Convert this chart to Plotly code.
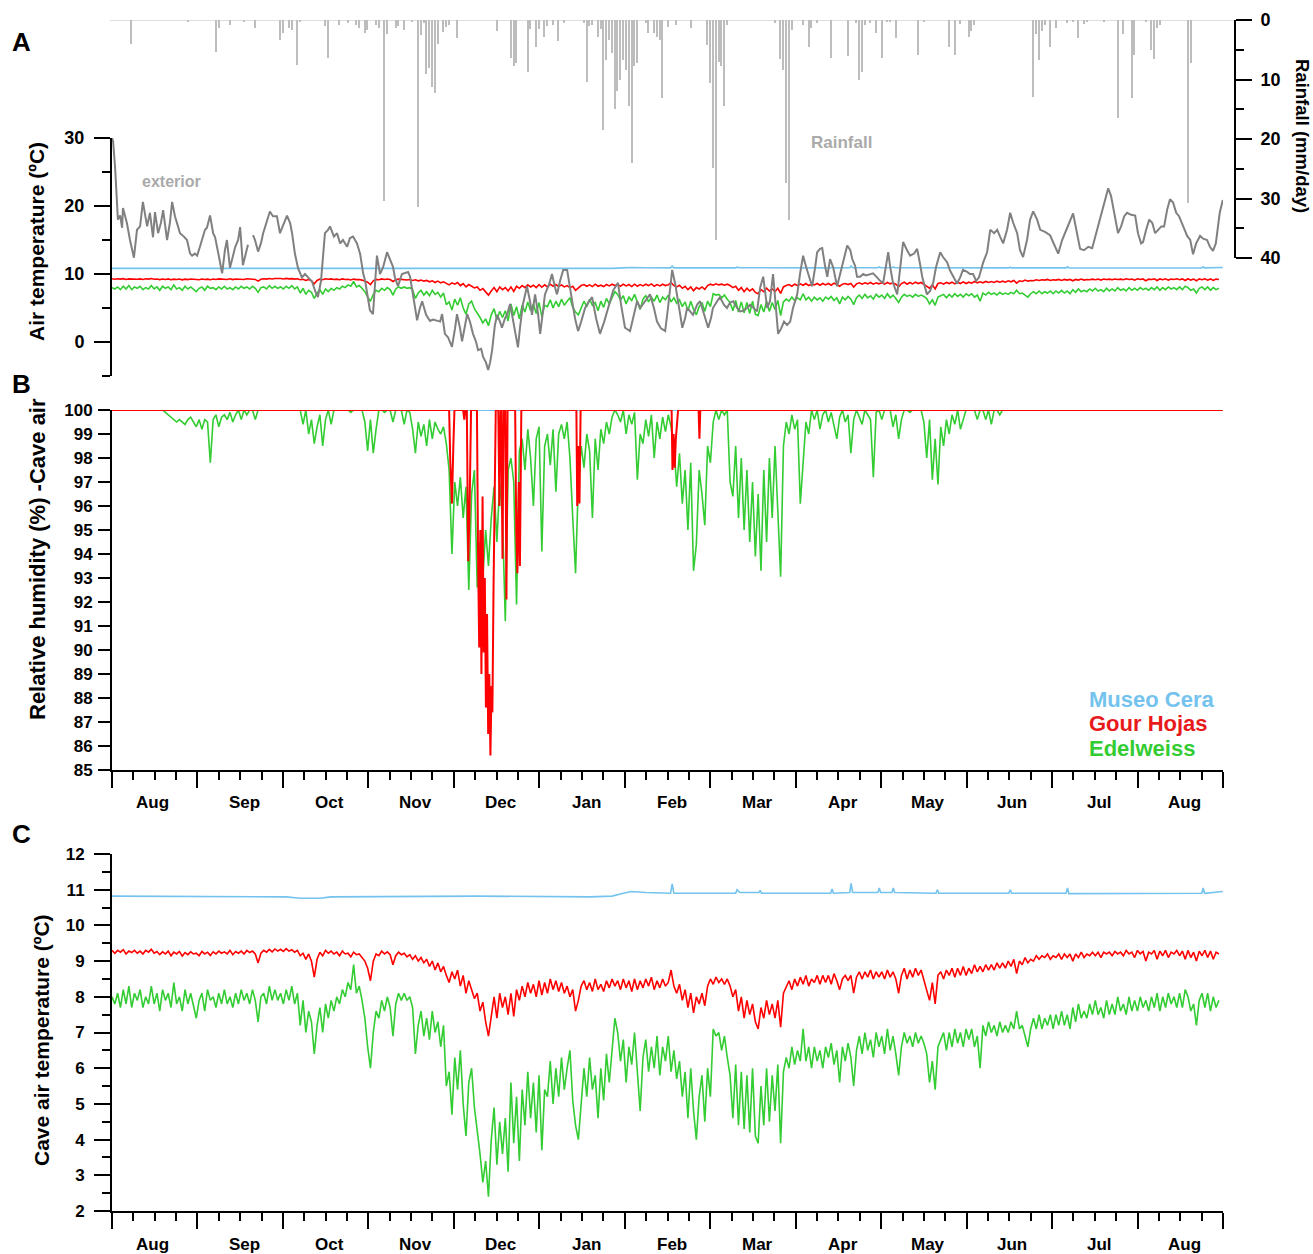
import numpy as np
import plotly.graph_objects as go

W, H = 1313, 1254
FONT = "Liberation Sans, Arial, sans-serif"

# ---------------- data ----------------
MONTH_DAYS = 30.42
month_labels = ["Aug", "Sep", "Oct", "Nov", "Dec", "Jan", "Feb", "Mar", "Apr", "May", "Jun", "Jul", "Aug"]
month_label_pos = [0.47, 1.55, 2.55, 3.55, 4.55, 5.55, 6.55, 7.55, 8.55, 9.55, 10.53, 11.55, 12.55]
X_END = MONTH_DAYS * len(month_labels)

# Edelweiss cave air temperature (daily, day 0 = 1 Aug)
edel_temp = [
    8.0, 7.8, 8.1, 7.7, 8.2, 7.8, 8.3, 7.7, 8.1, 7.9,
    8.2, 7.7, 8.0, 7.8, 8.3, 7.8, 8.1, 7.6, 8.2, 7.9,
    8.1, 7.7, 8.4, 7.8, 8.0, 7.6, 8.2, 7.8, 8.1, 7.7,
    7.4, 7.9, 8.1, 7.6, 8.2, 7.9, 8.0, 7.7, 8.1, 7.8,
    8.2, 7.8, 8.0, 7.7, 8.1, 7.8, 8.2, 7.9, 8.1, 7.8,
    8.2, 7.9, 7.3, 8.0, 8.1, 7.8, 8.3, 7.9, 8.2, 7.9,
    8.1, 7.8, 8.2, 7.9, 8.3, 7.8, 8.1, 7.2, 7.9, 7.0,
    7.6, 7.3, 6.4, 7.2, 7.7, 7.0, 7.8, 7.4, 7.9, 7.6,
    8.0, 7.8, 8.2, 8.0, 8.4, 8.2, 8.9, 8.1, 8.3, 7.9,
    7.4, 6.6, 6.0, 7.0, 7.6, 7.4, 7.9, 7.6, 8.0, 7.7,
    6.9, 7.8, 8.1, 7.9, 8.1, 7.9, 8.0, 7.7, 6.4, 7.2,
    7.6, 6.9, 7.4, 6.8, 7.6, 7.0, 7.3, 6.6, 7.2, 5.5,
    5.9, 4.7, 6.3, 5.4, 6.5, 5.0, 4.1, 5.6, 6.0, 4.9,
    4.3, 3.6, 2.8, 3.4, 2.4, 4.0, 4.9, 3.3, 4.5, 3.6,
    4.6, 3.1, 5.6, 3.9, 5.2, 3.4, 5.4, 4.4, 5.9, 4.6,
    5.6, 4.2, 5.8, 3.7, 5.4, 5.2, 6.2, 5.0, 6.0, 5.2,
    6.3, 5.4, 6.0, 6.5, 5.1, 4.4, 4.0, 5.0, 6.0, 5.2,
    6.3, 5.4, 5.8, 4.6, 6.0, 5.1, 6.4, 5.6, 6.6, 7.4,
    7.0, 6.2, 6.8, 5.6, 6.6, 6.1, 7.0, 6.0, 4.8, 6.3,
    6.8, 5.9, 6.6, 6.0, 6.9, 5.8, 6.6, 6.2, 6.9, 5.9,
    6.5, 5.7, 6.2, 5.2, 5.9, 4.6, 6.0, 4.8, 4.0, 5.2,
    5.8, 4.5, 6.0, 5.2, 7.1, 6.9, 7.0, 6.5, 6.9, 6.3,
    5.8, 4.6, 6.1, 4.4, 5.9, 4.3, 5.8, 4.2, 6.0, 4.1,
    3.9, 5.5, 4.4, 6.0, 4.5, 5.8, 4.8, 6.1, 3.9, 5.9,
    6.3, 6.0, 6.6, 6.1, 6.5, 6.2, 7.1, 6.2, 6.6, 6.0,
    6.6, 6.2, 6.5, 6.0, 6.6, 6.3, 6.7, 6.1, 6.5, 5.6,
    6.6, 6.2, 6.7, 6.3, 5.5, 6.5, 6.9, 6.4, 7.0, 6.5,
    6.8, 6.3, 7.0, 6.6, 6.9, 6.4, 7.1, 6.5, 6.9, 6.4,
    5.8, 6.6, 7.0, 6.7, 6.9, 6.6, 7.0, 6.7, 6.9, 6.7,
    6.4, 5.6, 6.2, 5.4, 6.6, 6.8, 7.0, 6.5, 7.0, 6.6,
    7.1, 6.7, 7.0, 6.6, 7.1, 6.8, 7.1, 6.6, 6.9, 6.0,
    7.2, 6.9, 7.3, 7.0, 7.2, 6.9, 7.3, 7.0, 7.2, 7.0,
    7.3, 7.1, 7.6, 7.1, 7.2, 6.9, 6.6, 7.1, 7.4, 7.1,
    7.5, 7.1, 7.4, 7.2, 7.5, 7.1, 7.5, 7.2, 7.6, 7.2,
    7.5, 7.1, 7.7, 7.3, 7.8, 7.4, 7.6, 7.4, 7.8, 7.5,
    7.9, 7.5, 7.7, 7.4, 7.9, 7.5, 7.8, 7.5, 8.0, 7.6,
    7.8, 7.5, 8.0, 7.6, 7.9, 7.6, 8.0, 7.7, 7.9, 7.6,
    8.0, 7.7, 8.1, 7.6, 8.0, 7.7, 8.1, 7.8, 8.0, 7.7,
    8.1, 7.7, 8.2, 8.0, 7.6, 7.8, 7.2, 7.9, 8.1, 7.7,
    8.1, 7.6, 8.0, 7.7, 7.9,
]

# Gour Hojas cave air temperature (daily)
gour_temp = [
    9.30, 9.22, 9.30, 9.25, 9.32, 9.20, 9.28, 9.24, 9.30, 9.22,
    9.28, 9.20, 9.30, 9.25, 9.33, 9.22, 9.27, 9.18, 9.26, 9.20,
    9.28, 9.15, 9.25, 9.20, 9.27, 9.14, 9.24, 9.18, 9.26, 9.20,
    9.22, 9.15, 9.27, 9.20, 9.25, 9.16, 9.26, 9.20, 9.28, 9.22,
    9.26, 9.20, 9.30, 9.18, 9.27, 9.22, 9.28, 9.20, 9.30, 9.24,
    9.28, 9.20, 8.95, 9.22, 9.30, 9.25, 9.33, 9.26, 9.34, 9.28,
    9.33, 9.27, 9.35, 9.28, 9.32, 9.25, 9.30, 9.15, 9.22, 9.05,
    9.20, 9.00, 8.55, 9.05, 9.25, 9.15, 9.30, 9.22, 9.28, 9.20,
    9.25, 9.15, 9.28, 9.20, 9.22, 9.12, 9.25, 9.18, 9.20, 9.10,
    9.00, 8.80, 8.45, 9.00, 9.20, 9.15, 9.28, 9.20, 9.26, 9.18,
    8.90, 9.15, 9.25, 9.18, 9.22, 9.12, 9.18, 9.05, 9.15, 9.00,
    9.10, 8.95, 9.05, 8.85, 9.00, 8.75, 8.95, 8.70, 8.85, 8.60,
    8.40, 8.70, 8.50, 8.75, 8.30, 8.60, 8.10, 8.45, 8.20, 7.95,
    8.10, 7.60, 7.85, 7.30, 6.90, 7.50, 8.00, 7.40, 8.10, 7.70,
    8.00, 7.50, 8.10, 7.45, 8.20, 7.90, 8.30, 8.00, 8.40, 8.10,
    8.35, 8.00, 8.45, 8.05, 8.40, 8.10, 8.50, 8.20, 8.45, 8.15,
    8.40, 8.10, 8.30, 8.00, 8.20, 7.60, 7.90, 8.30, 8.45, 8.20,
    8.40, 8.15, 8.50, 8.20, 8.35, 8.15, 8.45, 8.25, 8.50, 8.30,
    8.45, 8.20, 8.50, 8.25, 8.45, 8.15, 8.50, 8.20, 8.45, 8.25,
    8.50, 8.30, 8.55, 8.20, 8.45, 8.25, 8.50, 8.30, 8.40, 8.75,
    8.30, 8.10, 8.35, 7.90, 8.20, 7.70, 8.10, 7.55, 8.00, 7.80,
    8.10, 7.75, 8.30, 8.50, 8.35, 8.55, 8.40, 8.50, 8.35, 8.50,
    8.30, 8.00, 8.20, 7.60, 8.00, 7.40, 7.90, 7.50, 7.80, 7.30,
    7.10, 7.70, 7.40, 7.90, 7.50, 7.80, 7.40, 7.90, 7.15, 8.10,
    8.30, 8.45, 8.20, 8.50, 8.30, 8.55, 8.35, 8.60, 8.30, 8.50,
    8.40, 8.60, 8.35, 8.60, 8.40, 8.60, 8.35, 8.65, 8.45, 8.20,
    8.50, 8.60, 8.45, 8.60, 8.10, 8.55, 8.70, 8.50, 8.70, 8.55,
    8.75, 8.50, 8.70, 8.55, 8.70, 8.50, 8.75, 8.55, 8.70, 8.50,
    8.10, 8.60, 8.80, 8.50, 8.75, 8.55, 8.80, 8.60, 8.75, 8.45,
    8.20, 7.90, 8.40, 7.80, 8.60, 8.70, 8.50, 8.75, 8.60, 8.80,
    8.55, 8.80, 8.60, 8.85, 8.60, 8.80, 8.65, 8.90, 8.70, 8.85,
    8.70, 8.90, 8.75, 8.90, 8.75, 8.95, 8.80, 8.95, 8.80, 9.00,
    8.85, 9.05, 8.65, 9.00, 8.90, 9.10, 8.95, 9.05, 9.00, 9.15,
    9.05, 9.15, 9.10, 9.20, 9.05, 9.15, 9.10, 9.20, 9.05, 9.20,
    9.10, 9.20, 9.00, 9.20, 9.10, 9.25, 9.10, 9.20, 9.15, 9.25,
    9.15, 9.25, 9.10, 9.25, 9.20, 9.25, 9.15, 9.27, 9.20, 9.25,
    9.15, 9.30, 9.20, 9.25, 9.10, 9.30, 9.20, 9.27, 9.00, 9.25,
    9.20, 9.30, 9.05, 9.28, 9.15, 9.30, 9.10, 9.25, 9.20, 9.30,
    9.15, 9.28, 9.05, 9.30, 9.10, 9.25, 9.00, 9.28, 9.15, 9.30,
    9.10, 9.28, 9.05, 9.25, 9.20,
]

# Museo Cera cave air temperature (day, degC)
museo_temp = [
    (0, 10.82), (30, 10.81), (62, 10.80), (67, 10.76), (74, 10.76), (78, 10.80),
    (130, 10.82), (170, 10.80), (178, 10.82), (182, 10.90), (185, 10.95),
    (190, 10.92), (198.8, 10.90), (199.4, 11.16), (200, 10.90), (222, 10.90),
    (222.5, 11.00), (223.5, 10.92), (230.3, 10.92), (230.7, 10.98), (231.2, 10.90),
    (255.8, 10.90), (256.3, 11.02), (256.8, 10.90), (262.6, 10.92), (263.1, 11.18),
    (263.6, 10.92), (272.6, 10.92), (273.1, 11.05), (273.6, 10.92), (277.6, 10.92),
    (278.1, 11.05), (278.6, 10.92), (293.3, 10.90), (293.8, 11.00), (294.3, 10.90),
    (319.2, 10.90), (319.7, 11.00), (320.2, 10.90), (339.6, 10.90), (340.1, 11.05),
    (340.6, 10.89), (387.9, 10.90), (388.4, 11.05), (388.9, 10.90), (395.4, 10.95),
]

# Exterior air temperature (day, degC)
exterior = [
    (0, 30.0), (0.4, 29.5), (1.1, 25.7), (1.8, 20.9), (2.1, 18.0), (2.9, 18.6), (3.6, 16.8),
    (3.9, 19.7), (5.3, 17.5), (6.4, 15.0), (7.8, 12.4), (8.9, 16.5), (10.0, 17.0), (11.0, 20.6),
    (12.5, 17.0), (13.5, 19.0), (14.6, 15.4), (15.3, 19.1), (16.4, 16.0), (17.4, 17.5), (18.2, 19.4),
    (19.6, 15.0), (20.6, 17.5), (21.4, 20.6), (22.4, 18.5), (23.5, 17.0), (24.2, 16.0), (25.6, 15.5),
    (26.7, 15.0), (27.8, 13.0), (28.5, 12.7), (29.5, 13.0), (30.3, 12.7), (31.3, 14.0), (32.0, 15.0),
    (33.1, 16.5), (33.8, 16.8), (34.9, 18.6), (36.0, 16.0), (36.7, 15.4), (38.1, 12.5), (39.2, 10.1),
    (40.2, 13.5), (40.9, 15.0), (42.0, 10.9), (43.1, 12.5), (43.8, 13.9), (44.9, 15.0), (45.6, 16.9),
    (46.6, 11.3), (47.7, 13.0), (48.4, 14.3), (49.3, None), (50.2, 15.7), (50.9, 15.0), (52.0, 13.3),
    (53.0, 14.5), (53.8, 16.0), (55.2, 18.0), (56.2, 19.2), (57.3, 18.5), (58.7, 18.5), (59.8, 16.0),
    (61.2, 17.5), (62.3, 18.6), (63.4, 17.5), (64.1, 16.0), (65.1, 13.0), (66.2, 10.9), (67.6, 9.5),
    (68.7, 10.0), (69.8, 9.5), (71.2, 8.9), (72.3, 7.5), (73.3, 6.6), (74.4, 9.0), (75.8, 16.0),
    (76.9, 16.5), (77.6, 17.0), (79.0, 15.5), (80.1, 16.0), (81.2, 14.5), (82.2, 15.0), (83.7, 14.0),
    (84.7, 15.3), (85.8, 15.5), (87.2, 14.5), (88.3, 13.0), (89.4, 10.1), (90.1, 9.0), (91.1, 6.0),
    (91.8, 4.7), (92.9, 4.1), (93.6, 8.0), (94.3, 12.7), (95.4, 10.0), (96.5, 11.0), (97.9, 13.2),
    (99.0, 12.0), (100.0, 11.1), (100.7, 9.5), (101.8, 8.2), (103.2, 10.0), (104.3, 10.1), (105.4, 10.3),
    (106.1, 9.6), (107.2, 6.6), (108.6, 3.2), (109.6, 5.0), (110.4, 6.0), (111.8, 4.0), (113.2, 3.1),
    (114.3, 3.3), (115.7, 3.1), (116.8, 3.0), (117.5, 4.1), (118.5, 1.2), (119.6, 0.7), (121.0, -0.7),
    (122.1, 2.0), (122.8, 4.1), (123.9, 2.0), (124.6, 0.1), (125.7, 2.5), (126.4, 4.1), (127.4, 3.0),
    (128.5, 1.2), (129.6, 0.0), (130.3, -1.2), (131.4, -1.0), (132.1, -2.2), (133.1, -3.0), (133.9, -4.1),
    (134.6, -3.0), (135.3, -1.2), (136.3, 2.5), (137.1, 4.0), (138.1, 3.0), (138.8, 2.1), (139.9, 3.5),
    (140.6, 4.0), (141.7, 5.6), (142.8, 3.1), (143.8, 1.0), (144.5, -0.8), (145.2, 2.0), (146.3, 5.6),
    (147.7, 8.2), (148.8, 6.0), (149.5, 4.0), (150.6, 7.0), (151.7, 4.0), (152.4, 1.2), (153.4, 4.5),
    (154.1, 7.0), (155.6, 8.5), (156.6, 10.0), (157.7, 8.0), (158.4, 7.0), (159.5, 9.0), (160.6, 10.6),
    (162.0, 10.6), (162.7, 8.5), (163.8, 6.0), (164.8, 3.5), (165.9, 1.6), (167.0, 3.0), (168.4, 5.0),
    (169.8, 6.0), (170.9, 6.6), (172.3, 3.5), (173.7, 1.2), (175.2, 3.0), (176.2, 4.6), (177.3, 6.0),
    (178.4, 7.6), (180.1, 8.7), (181.2, 5.5), (182.6, 2.1), (184.4, 1.6), (185.8, 4.0), (186.9, 6.0),
    (188.0, 5.0), (189.0, 5.6), (190.5, 6.5), (191.5, 7.0), (192.9, 5.0), (194.0, 3.0), (195.4, 2.0),
    (196.9, 1.6), (197.9, 5.0), (199.4, 10.6), (200.5, 8.5), (201.2, 6.6), (202.3, 4.0), (203.0, 2.1),
    (204.0, 3.5), (204.7, 5.0), (205.8, 4.5), (206.8, 4.0), (208.3, 5.5), (209.3, 6.0), (210.8, 4.0),
    (212.2, 2.1), (213.2, 3.5), (213.9, 5.0), (215.4, 6.0), (216.4, 6.6), (217.8, 5.5), (218.9, 5.0),
    (220.0, 5.8), (221.1, 6.0), (222.5, 5.0), (223.6, 4.5), (224.6, 4.6), (226.1, 5.0), (227.1, 5.5),
    (228.2, 5.0), (229.6, 4.5), (230.7, 8.0), (231.8, 9.6), (233.2, 5.0), (234.2, 6.0), (235.3, 10.0),
    (236.4, 5.0), (237.1, 1.2), (238.2, 2.0), (239.2, 3.0), (240.3, 2.5), (241.4, 3.0), (242.4, 5.0),
    (243.9, 7.0), (244.9, 10.0), (246.0, 12.7), (247.1, 11.0), (248.1, 9.6), (249.2, 8.2), (250.3, 11.0),
    (251.0, 13.2), (252.0, 13.7), (252.8, 13.8), (253.8, 11.2), (254.6, 9.6), (255.6, 12.2), (256.7, 11.0),
    (258.1, 8.2), (259.2, 10.0), (259.9, 11.2), (261.7, 14.2), (262.8, 13.5), (263.5, 12.2), (264.5, 11.2),
    (265.2, 9.6), (266.3, 9.6), (267.4, 10.0), (268.4, 9.8), (269.8, 10.0), (270.9, 10.1), (272.3, 9.5),
    (273.4, 9.0), (274.5, 8.7), (275.5, 11.0), (276.3, 13.2), (277.0, 11.0), (278.0, 8.7), (279.5, 7.0),
    (280.5, 11.0), (281.6, 14.7), (283.0, 13.5), (284.1, 12.7), (285.5, 13.0), (286.6, 13.7), (287.6, 11.5),
    (288.4, 9.6), (289.4, 8.0), (290.1, 7.0), (291.2, 7.5), (292.3, 8.7), (293.3, 11.0), (294.8, 13.2),
    (295.8, 12.5), (297.3, 11.7), (298.3, 10.5), (299.4, 9.6), (300.8, 8.6), (301.9, 9.5), (302.9, 10.6),
    (304.4, 10.3), (305.4, 10.0), (306.5, 10.0), (307.6, 9.0), (308.6, 9.5), (310.1, 11.7), (311.5, 13.2),
    (312.6, 16.5), (314.0, 16.0), (315.1, 16.5), (316.1, 15.5), (317.2, 14.5), (318.6, 16.5), (319.7, 19.0),
    (320.8, 17.5), (322.2, 16.0), (323.2, 13.5), (324.3, 12.5), (325.7, 15.0), (326.8, 18.0), (327.9, 19.2),
    (329.3, 18.0), (330.4, 16.5), (332.1, 16.2), (333.9, 15.7), (335.3, 14.5), (336.8, 13.0), (338.2, 15.0),
    (339.3, 16.0), (340.7, 17.5), (342.1, 18.9), (343.2, 16.5), (344.6, 13.7), (346.0, 13.5), (347.5, 14.0),
    (348.9, 13.8), (350.3, 16.0), (351.7, 18.0), (353.1, 20.0), (354.6, 22.6), (355.6, 21.5), (356.7, 19.0),
    (358.1, 16.0), (359.2, 17.0), (360.3, 18.5), (361.3, 19.0), (362.8, 18.7), (364.2, 18.6), (365.2, 16.0),
    (366.3, 14.5), (367.0, 14.7), (368.1, 16.5), (369.2, 18.0), (370.3, 17.5), (371.3, 16.0), (372.4, 16.5),
    (373.5, 17.0), (374.5, 17.0), (375.6, 19.5), (376.6, 21.0), (377.7, 20.5), (378.8, 19.0), (379.8, 18.5),
    (381.3, 17.0), (382.7, 15.6), (383.8, 15.0), (384.8, 12.9), (385.9, 14.5), (387.3, 15.6), (388.4, 15.2),
    (389.8, 15.0), (390.8, 14.0), (391.9, 13.4), (392.9, 14.5), (393.6, 16.5), (394.3, 19.0), (395.4, 20.9),
]

# Daily rainfall (day, mm/day)
rainfall = [
    (7, 4.1), (27, 0.3), (37, 5.3), (38, 1.4), (42, 0.8), (47, 0.3), (51, 1.4), (60, 3.4), (61, 2.2),
    (63, 1.4), (64, 1.7), (66, 7.6), (67, 0.3), (76, 1.0), (77, 6.4), (81, 0.8), (84, 0.5), (87, 0.8),
    (88, 1.4), (90, 2.2), (91, 1.7), (94, 0.8), (95, 1.4), (97, 30.5), (98, 2.4), (101, 1.4), (102, 1.0),
    (104, 1.7), (107, 0.3), (109, 31.4), (110, 2.5), (111, 0.5), (112, 9.0), (113, 8.0), (114, 11.3),
    (115, 12.3), (116, 4.0), (118, 2.1), (119, 1.1), (120, 0.8), (123, 3.1), (137, 1.9), (142, 6.4),
    (143, 7.8), (144, 7.3), (148, 8.7), (149, 1.5), (151, 4.5), (152, 1.5), (154, 2.8), (155, 1.0),
    (157, 0.8), (159, 3.6), (161, 0.5), (168, 0.5), (169, 10.4), (170, 1.0), (171, 0.8), (173, 2.8),
    (174, 1.5), (175, 18.5), (176, 6.7), (177, 3.4), (178, 5.6), (179, 14.9), (180, 12.0), (181, 10.1),
    (182, 6.7), (183, 8.4), (184, 14.4), (185, 24.1), (186, 7.8), (187, 7.3), (190, 0.5), (191, 2.2),
    (193, 2.2), (194, 2.8), (195, 3.4), (196, 13.1), (198, 1.1), (201, 0.8), (206, 1.4), (212, 4.2),
    (213, 10.6), (214, 24.9), (215, 37.0), (216, 7.0), (217, 7.8), (218, 14.4), (219, 0.8), (236, 0.5),
    (238, 6.5), (239, 8.4), (240, 27.4), (241, 33.6), (242, 1.7), (246, 0.8), (248, 4.5), (249, 1.4),
    (251, 0.5), (256, 6.4), (262, 6.1), (265, 0.5), (266, 10.1), (267, 8.7), (268, 0.8), (270, 0.5),
    (272, 2.2), (274, 6.4), (276, 0.3), (277, 0.3), (279, 3.0), (287, 5.9), (289, 0.4), (298, 4.5),
    (300, 5.9), (302, 0.7), (305, 2.8), (306, 1.9), (307, 0.9), (328, 12.9), (329, 2.4), (330, 6.7),
    (331, 1.9), (332, 0.8), (334, 4.5), (336, 1.4), (340, 0.5), (342, 0.3), (344, 3.1), (346, 0.6),
    (347, 0.3), (353, 0.3), (358, 16.5), (360, 2.4), (363, 13.1), (364, 5.9), (368, 0.3), (370, 5.0),
    (371, 6.6), (372, 1.4), (373, 0.8), (383, 30.8), (384, 7.3),
]

# Relative humidity, Edelweiss (daily, %)
rh_edel = [
    100, 100, 100, 100, 100, 100, 100, 100, 100, 100,
    100, 100, 100, 100, 100, 100, 100, 100, 100, 99.9,
    99.8, 99.7, 99.6, 99.5, 99.6, 99.5, 99.4, 99.6, 99.7, 99.5,
    99.3, 99.6, 99.2, 99.6, 99.5, 97.8, 99.6, 99.8, 99.3, 99.7,
    99.8, 99.6, 99.9, 99.5, 99.8, 100, 99.6, 100, 99.8, 100,
    100, 99.6, 100, 100, 100, 100, 100, 100, 100, 100,
    100, 100, 100, 100, 100, 100, 100, 100, 99.4, 100,
    99.0, 99.6, 98.6, 99.3, 99.8, 98.5, 99.6, 100, 99.4, 100,
    100, 100, 100, 100, 100, 99.9, 100, 100, 100, 100,
    99.5, 98.3, 99.6, 98.2, 99.2, 100, 100, 99.9, 100, 100,
    99.5, 100, 100, 100, 99.4, 100, 99.9, 99.2, 98.2, 99.5,
    98.9, 99.4, 98.5, 99.6, 98.8, 99.5, 99.2, 99.0, 99.3, 98.6,
    97.5, 94.0, 97.0, 96.0, 97.2, 95.5, 96.8, 92.5, 96.5, 97.5,
    92.6, 94.5, 93.0, 95.0, 93.5, 95.5, 96.8, 94.5, 97.0, 95.5,
    91.2, 97.5, 98.0, 97.0, 91.9, 98.3, 98.8, 97.5, 99.2, 98.0,
    96.0, 98.8, 99.3, 94.1, 98.5, 99.0, 97.7, 99.2, 96.6, 99.0,
    99.4, 98.8, 99.5, 98.0, 95.5, 93.2, 97.0, 98.5, 97.6, 99.0,
    98.3, 95.5, 98.8, 97.5, 99.2, 98.6, 99.5, 99.0, 99.7, 100,
    99.8, 99.5, 100, 99.0, 99.8, 99.4, 99.9, 97.1, 99.0, 98.6,
    99.6, 98.9, 99.8, 98.0, 99.5, 98.8, 99.7, 99.1, 99.8, 99.3,
    98.5, 96.8, 98.2, 96.1, 97.5, 95.0, 97.8, 93.3, 94.4, 97.5,
    96.5, 95.2, 98.5, 97.8, 99.5, 100, 99.6, 100, 99.8, 100,
    97.0, 96.4, 98.5, 95.5, 98.0, 95.0, 97.5, 94.5, 97.0, 93.9,
    96.5, 93.3, 97.5, 94.5, 98.0, 95.5, 98.5, 96.0, 93.05, 98.5,
    99.5, 99.0, 99.8, 99.2, 99.6, 96.1, 97.8, 99.5, 99.0, 100,
    99.6, 100, 99.2, 99.8, 100, 99.5, 99.9, 99.4, 98.8, 99.7,
    100, 99.5, 99.8, 98.2, 99.6, 100, 99.7, 99.4, 100, 99.8,
    99.6, 97.2, 99.9, 100, 99.6, 100, 100, 100, 99.3, 99.8,
    98.8, 99.6, 100, 100, 99.9, 100, 100, 100, 100, 99.5,
    98.0, 99.6, 97.1, 98.8, 96.9, 99.3, 98.5, 99.6, 99.0, 99.8,
    99.4, 100, 99.2, 99.6, 100, 100, 100, 100, 99.6, 100,
    100, 99.6, 100, 99.4, 100, 100, 99.8, 100, 100, 100,
    100, 100, 100, 100, 100, 100, 100, 100, 100, 100,
    100, 100, 100, 100, 100, 100, 100, 100, 100, 100,
    100, 100, 100, 100, 100, 100, 100, 100, 100, 100,
    100, 100, 100, 100, 100, 100, 100, 100, 100, 100,
    100, 100, 100, 100, 100, 100, 100, 100, 100, 100,
    100, 100, 100, 100, 100, 100, 100, 100, 100, 100,
    100, 100, 100, 100, 100, 100, 100, 100, 100, 100,
    100, 100, 100, 100, 100,
]

# Relative humidity, Gour Hojas (day, %)
rh_gour = [
    (0, 100), (120.0, 100), (120.4, 97.9), (121.0, 96.1), (121.5, 98.5), (121.9, 100), (125.0, 100),
    (125.4, 99.6), (125.8, 100), (126.3, 100), (126.8, 93.7), (127.3, 96.0), (127.8, 100), (129.9, 100),
    (130.3, 94.0), (130.7, 90.1), (131.1, 95.0), (131.5, 89.0), (131.9, 96.4), (132.3, 89.9), (132.7, 93.0),
    (133.1, 87.6), (133.5, 91.5), (133.9, 86.5), (134.3, 89.0), (134.7, 85.6), (135.1, 88.5), (135.4, 87.4),
    (135.8, 92.5), (136.2, 96.3), (136.6, 100), (137.5, 100), (137.9, 96.0), (138.3, 100), (138.6, 100),
    (139.0, 93.8), (139.4, 100), (140.0, 100), (140.4, 92.1), (140.8, 100), (143.5, 100), (143.9, 95.0),
    (144.3, 93.2), (144.8, 97.0), (145.2, 93.5), (145.7, 100), (165.3, 100), (165.6, 96.0), (166.0, 98.5),
    (166.4, 96.1), (166.8, 100), (199.2, 100), (199.5, 97.5), (199.9, 99.0), (200.3, 97.6), (200.7, 98.8),
    (201.1, 99.6), (201.5, 100), (208.8, 100), (209.1, 98.8), (209.4, 100), (395.4, 100),
]

# Relative humidity, Museo Cera (day, %)
rh_museo = [(0, 100), (395.4, 100)]

# ---------------- styling ----------------
C_MUSEO = "#74C3EE"
C_GOUR = "#FF0000"
C_EDEL = "#33CC33"
C_EXT = "#808080"
C_RAIN = "#BDBDBD"
C_LABEL_GRAY = "#AAAAAA"


def unzip(pairs):
    return [p[0] for p in pairs], [p[1] for p in pairs]


days_edel = np.arange(len(edel_temp))
days_gour = np.arange(len(gour_temp))
days_rh_edel = np.arange(len(rh_edel))
mx, my = unzip(museo_temp)
ex, ey = unzip(exterior)
rx, ry = unzip(rainfall)
gx, gy = unzip(rh_gour)
hx, hy = unzip(rh_museo)

fig = go.Figure()

# Panel A
fig.add_trace(go.Bar(x=rx, y=ry, width=0.5, marker=dict(color=C_RAIN, line=dict(width=0)),
                     xaxis="x", yaxis="y2", showlegend=False))
fig.add_trace(go.Scatter(x=mx, y=my, mode="lines", line=dict(color=C_MUSEO, width=1.6),
                         xaxis="x", yaxis="y", showlegend=False))
fig.add_trace(go.Scatter(x=days_gour, y=gour_temp, mode="lines", line=dict(color=C_GOUR, width=1.6),
                         xaxis="x", yaxis="y", showlegend=False))
fig.add_trace(go.Scatter(x=days_edel, y=edel_temp, mode="lines", line=dict(color=C_EDEL, width=1.6),
                         xaxis="x", yaxis="y", showlegend=False))
fig.add_trace(go.Scatter(x=ex, y=ey, mode="lines", line=dict(color=C_EXT, width=2),
                         xaxis="x", yaxis="y", showlegend=False, connectgaps=False))

# Panel B
fig.add_trace(go.Scatter(x=hx, y=hy, mode="lines", line=dict(color=C_MUSEO, width=2),
                         xaxis="x2", yaxis="y3", showlegend=False))
fig.add_trace(go.Scatter(x=days_rh_edel, y=rh_edel, mode="lines", line=dict(color=C_EDEL, width=1.6),
                         xaxis="x2", yaxis="y3", showlegend=False))
fig.add_trace(go.Scatter(x=gx, y=gy, mode="lines", line=dict(color=C_GOUR, width=2),
                         xaxis="x2", yaxis="y3", showlegend=False))

# Panel C
fig.add_trace(go.Scatter(x=mx, y=my, mode="lines", line=dict(color=C_MUSEO, width=1.6),
                         xaxis="x3", yaxis="y4", showlegend=False))
fig.add_trace(go.Scatter(x=days_gour, y=gour_temp, mode="lines", line=dict(color=C_GOUR, width=1.6),
                         xaxis="x3", yaxis="y4", showlegend=False))
fig.add_trace(go.Scatter(x=days_edel, y=edel_temp, mode="lines", line=dict(color=C_EDEL, width=1.6),
                         xaxis="x3", yaxis="y4", showlegend=False))


def ydom(top_px, bot_px):
    return [1 - bot_px / H, 1 - top_px / H]


XDOM = [112 / W, 1223 / W]
tickfont = dict(family=FONT, size=17, color="black", weight="bold")
month_bounds = [k * MONTH_DAYS for k in range(len(month_labels) + 1)]
minor_x = [k * MONTH_DAYS / 4 for k in range(4 * len(month_labels) + 1) if k % 4 != 0]

common_axis = dict(showgrid=False, zeroline=False, automargin=False, showline=True,
                   linecolor="black", linewidth=2, ticks="outside", tickwidth=2,
                   tickcolor="black", tickfont=tickfont)

bottom_x = dict(common_axis, domain=XDOM, range=[0, X_END], tickmode="array",
                tickvals=month_bounds, ticklen=16, showticklabels=False,
                minor=dict(tickmode="array", tickvals=minor_x, ticks="outside", ticklen=8,
                           tickwidth=2, tickcolor="black", showgrid=False))

fig.update_layout(
    width=W, height=H, template="none",
    margin=dict(l=0, r=0, t=0, b=0, pad=0),
    paper_bgcolor="white", plot_bgcolor="rgba(0,0,0,0)",
    showlegend=False, bargap=0,
    xaxis=dict(domain=XDOM, range=[0, X_END], anchor="y", visible=False),
    yaxis=dict(common_axis, domain=ydom(138, 376), range=[-5, 30], anchor="x",
               tickmode="array", tickvals=[0, 10, 20, 30], ticklen=16, ticklabelstandoff=6,
               tickfont=dict(tickfont, size=18),
               minor=dict(tickmode="array", tickvals=[-5, 5, 15, 25], ticks="outside",
                          ticklen=8, tickwidth=2, tickcolor="black", showgrid=False)),
    yaxis2=dict(common_axis, domain=ydom(20, 258), range=[40, 0], anchor="free",
                position=1235 / W, side="right",
                tickmode="array", tickvals=[0, 10, 20, 30, 40], ticklen=16, ticklabelstandoff=5,
                tickfont=dict(tickfont, size=18),
                minor=dict(tickmode="array", tickvals=[5, 15, 25, 35], ticks="outside",
                           ticklen=8, tickwidth=2, tickcolor="black", showgrid=False)),
    xaxis2=dict(bottom_x, anchor="y3"),
    yaxis3=dict(common_axis, domain=ydom(410, 770), range=[85, 100], anchor="x2",
                tickmode="array", tickvals=list(range(85, 101)), ticklen=12, ticklabelstandoff=2),
    xaxis3=dict(bottom_x, anchor="y4"),
    yaxis4=dict(common_axis, domain=ydom(854, 1211), range=[2, 12], anchor="x3",
                tickmode="array", tickvals=list(range(2, 13)), ticklen=16, ticklabelstandoff=6,
                minor=dict(tickmode="array", tickvals=[v + 0.5 for v in range(2, 12)],
                           ticks="outside", ticklen=8, tickwidth=2, tickcolor="black",
                           showgrid=False)),
)

# rainfall zero line
fig.add_shape(type="line", xref="paper", yref="y2", x0=110 / W, x1=1235 / W, y0=0, y1=0,
              line=dict(color=C_RAIN, width=1.2), layer="below")

ann = []


def bold(size, color="black"):
    return dict(family=FONT, size=size, color=color, weight="bold")


# month labels
for xref, ypx in (("x2", 802), ("x3", 1244)):
    for pos, lab in zip(month_label_pos, month_labels):
        ann.append(dict(x=pos * MONTH_DAYS, y=1 - ypx / H, xref=xref, yref="paper",
                        text=lab, showarrow=False, font=bold(17), xanchor="center", yanchor="middle"))

# panel letters
for lab, ypx in (("A", 42), ("B", 384), ("C", 834)):
    ann.append(dict(x=21 / W, y=1 - ypx / H, xref="paper", yref="paper", text=lab, showarrow=False,
                    font=bold(26), xanchor="center", yanchor="middle"))

# axis titles
ann.append(dict(x=37 / W, y=1 - 242 / H, xref="paper", yref="paper", text="Air temperature (ºC)",
                textangle=-90, showarrow=False, font=bold(21), xanchor="center", yanchor="middle"))
ann.append(dict(x=37 / W, y=1 - 559 / H, xref="paper", yref="paper",
                text="Relative humidity (%) -Cave air",
                textangle=-90, showarrow=False, font=bold(22), xanchor="center", yanchor="middle"))
ann.append(dict(x=41 / W, y=1 - 1040 / H, xref="paper", yref="paper",
                text="Cave air temperature (ºC)",
                textangle=-90, showarrow=False, font=bold(21), xanchor="center", yanchor="middle"))
ann.append(dict(x=1302 / W, y=1 - 136 / H, xref="paper", yref="paper", text="Rainfall (mm/day)",
                textangle=90, showarrow=False, font=bold(18.5), xanchor="center", yanchor="middle"))

# inline labels
ann.append(dict(x=171 / W, y=1 - 181 / H, xref="paper", yref="paper", text="exterior",
                showarrow=False, font=bold(16, C_LABEL_GRAY), xanchor="center", yanchor="middle"))
ann.append(dict(x=841 / W, y=1 - 142 / H, xref="paper", yref="paper", text="Rainfall",
                showarrow=False, font=bold(17, C_LABEL_GRAY), xanchor="center", yanchor="middle"))

# legend text
for lab, col, ypx in (("Museo Cera", C_MUSEO, 699), ("Gour Hojas", "#E8191B", 723),
                      ("Edelweiss", C_EDEL, 748)):
    ann.append(dict(x=1087 / W, y=1 - ypx / H, xref="paper", yref="paper", text=lab,
                    showarrow=False, font=bold(22, col), xanchor="left", yanchor="middle"))

fig.update_layout(annotations=ann)
fig.write_html("out.html")
